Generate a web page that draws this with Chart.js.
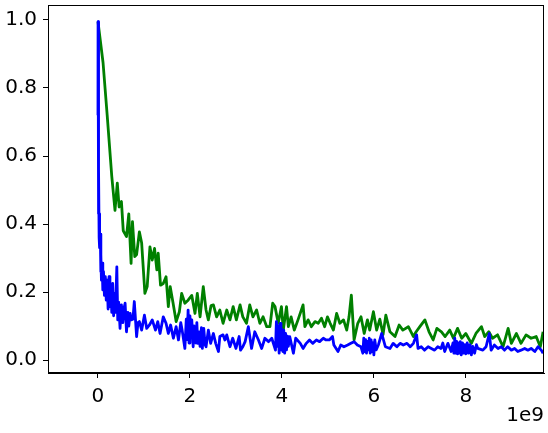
<!DOCTYPE html>
<html>
<head>
<meta charset="utf-8">
<script src="https://cdn.jsdelivr.net/npm/chart.js@4.4.1/dist/chart.umd.min.js"></script>
<style>
  html, body { margin: 0; padding: 0; background: #fff; }
  #wrap { width: 548px; height: 433px; }
</style>
</head>
<body>
<div id="wrap"><canvas id="lossChart" width="548" height="433"></canvas></div>
<script>
// x values are in units of 1e9 (shown as the axis offset label)
const greenX = [0, 0.11, 0.2, 0.3, 0.37, 0.42, 0.46, 0.51, 0.55, 0.62, 0.67, 0.72, 0.75, 0.8, 0.84, 0.9, 0.95,
  1.02, 1.07, 1.13, 1.18, 1.23, 1.28, 1.31, 1.36, 1.42, 1.48, 1.53, 1.57, 1.63, 1.7, 1.77, 1.82, 1.89, 1.96,
  2.04, 2.11, 2.16, 2.22, 2.29, 2.35, 2.4, 2.46, 2.51, 2.58, 2.65, 2.72, 2.8, 2.87, 2.94,
  3.01, 3.09, 3.15, 3.23, 3.3, 3.37, 3.45, 3.52, 3.59, 3.67, 3.74, 3.8, 3.85, 3.92, 3.99,
  4.03, 4.1, 4.14, 4.2, 4.27, 4.35, 4.46, 4.5, 4.57, 4.64, 4.72, 4.79, 4.86, 4.93, 4.99,
  5.05, 5.12, 5.19, 5.26, 5.34, 5.41, 5.46, 5.51, 5.57, 5.65, 5.72, 5.79, 5.86, 5.91, 5.99,
  6.06, 6.13, 6.2, 6.26, 6.35, 6.46, 6.55, 6.63, 6.75, 6.86, 6.92,
  7.0, 7.11, 7.2, 7.29, 7.37, 7.47, 7.55, 7.65, 7.73, 7.82, 7.91,
  8.0, 8.12, 8.22, 8.34, 8.41, 8.5, 8.58, 8.69, 8.81, 8.92, 8.99,
  9.1, 9.2, 9.31, 9.42, 9.53, 9.62, 9.68];
const greenY = [0.995, 0.875, 0.72, 0.54, 0.44, 0.52, 0.45, 0.466, 0.38, 0.363, 0.43, 0.284, 0.407, 0.304, 0.31, 0.377, 0.344,
  0.196, 0.216, 0.333, 0.294, 0.328, 0.265, 0.314, 0.22, 0.225, 0.245, 0.157, 0.216, 0.17, 0.113, 0.142, 0.196, 0.167, 0.176,
  0.19, 0.137, 0.196, 0.127, 0.216, 0.147, 0.118, 0.16, 0.162, 0.127, 0.147, 0.108, 0.147, 0.118, 0.157,
  0.118, 0.162, 0.127, 0.108, 0.162, 0.127, 0.147, 0.108, 0.127, 0.098, 0.098, 0.167, 0.157, 0.108, 0.157,
  0.088, 0.157, 0.098, 0.127, 0.088, 0.118, 0.162, 0.098, 0.118, 0.098, 0.113, 0.108, 0.123, 0.098, 0.127,
  0.108, 0.088, 0.137, 0.108, 0.118, 0.088, 0.127, 0.191, 0.059, 0.108, 0.127, 0.078, 0.118, 0.088, 0.142,
  0.088, 0.12, 0.075, 0.132, 0.083, 0.069, 0.103, 0.088, 0.098, 0.069, 0.083,
  0.098, 0.118, 0.083, 0.059, 0.093, 0.083, 0.069, 0.088, 0.064, 0.093, 0.064,
  0.078, 0.049, 0.078, 0.098, 0.069, 0.083, 0.064, 0.074, 0.039, 0.093, 0.049,
  0.078, 0.049, 0.074, 0.064, 0.069, 0.039, 0.083];

const blueX = [0, 0.002, 0.006, 0.01, 0.014, 0.02, 0.025, 0.03, 0.04, 0.05, 0.06, 0.065, 0.075, 0.09, 0.105, 0.12, 0.14,
  0.16, 0.18, 0.2, 0.22, 0.24, 0.26, 0.28, 0.3, 0.32, 0.34, 0.36, 0.38, 0.41, 0.43, 0.45, 0.48, 0.51, 0.54, 0.57,
  0.59, 0.62, 0.65, 0.67, 0.7, 0.72, 0.76, 0.79, 0.84, 0.87, 0.9, 0.95,
  1.01, 1.06, 1.12, 1.18, 1.25, 1.3, 1.35, 1.42, 1.48, 1.53, 1.58, 1.64, 1.7, 1.75, 1.8, 1.83, 1.89, 1.92, 1.94, 1.96, 1.98,
  2.0, 2.02, 2.04, 2.07, 2.09, 2.11, 2.13, 2.15, 2.17, 2.2, 2.22, 2.25, 2.27, 2.3, 2.33, 2.35, 2.4, 2.45, 2.51, 2.56,
  2.62, 2.65, 2.72, 2.76, 2.8, 2.87, 2.93,
  3.0, 3.07, 3.1, 3.15, 3.2, 3.27, 3.34, 3.41, 3.49, 3.56, 3.63, 3.71, 3.78, 3.86, 3.88, 3.9, 3.92, 3.94, 3.96, 3.98,
  4.0, 4.02, 4.04, 4.06, 4.08, 4.1, 4.12, 4.14, 4.17, 4.25, 4.3, 4.4, 4.46, 4.53, 4.6, 4.67, 4.75, 4.82, 4.9, 4.96,
  5.03, 5.1, 5.13, 5.22, 5.28, 5.35, 5.43, 5.5, 5.57, 5.64, 5.72, 5.76, 5.78, 5.8, 5.82, 5.84, 5.86, 5.88, 5.9, 5.92, 5.94, 5.96, 5.98,
  6.0, 6.02, 6.05, 6.1, 6.17, 6.25, 6.35, 6.42, 6.5, 6.57, 6.64, 6.72, 6.79, 6.86, 6.93, 6.96,
  7.03, 7.1, 7.18, 7.25, 7.32, 7.39, 7.46, 7.5, 7.54, 7.61, 7.68, 7.72, 7.74, 7.76, 7.78, 7.8, 7.82, 7.84, 7.86, 7.88, 7.9, 7.93, 7.95, 7.98,
  8.0, 8.03, 8.06, 8.09, 8.12, 8.15, 8.19, 8.23, 8.26, 8.37, 8.44, 8.51, 8.55, 8.62, 8.7, 8.77, 8.84, 8.91, 8.99,
  9.06, 9.13, 9.2, 9.28, 9.35, 9.42, 9.5, 9.57, 9.64, 9.68];
const blueY = [0.72, 0.995, 0.58, 0.70, 0.43, 0.56, 0.36, 0.43, 0.33, 0.37, 0.26, 0.31, 0.235, 0.285, 0.206, 0.26, 0.19,
  0.245, 0.176, 0.235, 0.15, 0.245, 0.157, 0.21, 0.14, 0.225, 0.13, 0.196, 0.14, 0.274, 0.118, 0.17, 0.093, 0.162, 0.11, 0.155,
  0.167, 0.083, 0.14, 0.1, 0.137, 0.118, 0.12, 0.172, 0.069, 0.11, 0.113, 0.088,
  0.132, 0.093, 0.103, 0.118, 0.088, 0.113, 0.078, 0.127, 0.108, 0.078, 0.103, 0.064, 0.098, 0.059, 0.11, 0.088, 0.034, 0.12, 0.06, 0.147, 0.05,
  0.13, 0.069, 0.118, 0.039, 0.1, 0.093, 0.05, 0.11, 0.049, 0.083, 0.04, 0.095, 0.034, 0.093, 0.045, 0.039, 0.088, 0.049, 0.078, 0.049,
  0.025, 0.069, 0.074, 0.059, 0.074, 0.039, 0.064,
  0.034, 0.069, 0.029, 0.039, 0.054, 0.098, 0.034, 0.083, 0.059, 0.034, 0.064, 0.054, 0.064, 0.029, 0.113, 0.04, 0.10, 0.02, 0.108, 0.03,
  0.09, 0.025, 0.088, 0.02, 0.078, 0.03, 0.07, 0.04, 0.069, 0.02, 0.064, 0.049, 0.034, 0.049, 0.059, 0.049, 0.059, 0.054, 0.064, 0.059,
  0.059, 0.069, 0.044, 0.025, 0.044, 0.039, 0.044, 0.049, 0.054, 0.044, 0.039, 0.02, 0.064, 0.025, 0.06, 0.02, 0.055, 0.03, 0.064, 0.02, 0.059, 0.025, 0.05,
  0.015, 0.059, 0.03, 0.045, 0.078, 0.039, 0.034, 0.049, 0.039, 0.049, 0.044, 0.049, 0.039, 0.049, 0.074, 0.034,
  0.039, 0.029, 0.039, 0.034, 0.029, 0.039, 0.034, 0.05, 0.025, 0.049, 0.025, 0.05, 0.02, 0.064, 0.02, 0.055, 0.018, 0.05, 0.02, 0.054, 0.015, 0.05, 0.02, 0.045,
  0.018, 0.05, 0.02, 0.045, 0.015, 0.04, 0.02, 0.045, 0.034, 0.029, 0.039, 0.078, 0.029, 0.044, 0.034, 0.039, 0.029, 0.039, 0.029,
  0.034, 0.025, 0.029, 0.034, 0.029, 0.034, 0.025, 0.039, 0.029, 0.02];

const xTicks = [0, 2, 4, 6, 8];
const yTicks = [0.0, 0.2, 0.4, 0.6, 0.8, 1.0];
const xOffsetLabel = '1e9';

function toPoints(xs, ys) {
  return xs.map((x, i) => ({ x: x, y: ys[i] }));
}

// matplotlib-like box around the plot area
const frameBox = {
  id: 'frameBox',
  afterDatasetsDraw(chart) {
    const a = chart.chartArea;
    const ctx = chart.ctx;
    ctx.save();
    ctx.strokeStyle = '#000';
    ctx.lineWidth = 1;
    ctx.strokeRect(Math.round(a.left) + 0.5, Math.round(a.top) + 0.5,
      Math.round(a.right - a.left) - 1, Math.round(a.bottom - a.top) - 1);
    ctx.restore();
  }
};

const tickFont = { family: 'DejaVu Sans', size: 20 };

new Chart(document.getElementById('lossChart'), {
  type: 'line',
  data: {
    datasets: [
      {
        data: toPoints(blueX, blueY),
        borderColor: '#0000ff',
        borderWidth: 2.8,
        borderJoinStyle: 'round',
        pointRadius: 0,
        tension: 0,
        fill: false
      },
      {
        data: toPoints(greenX, greenY),
        borderColor: '#008000',
        borderWidth: 2.8,
        borderJoinStyle: 'round',
        pointRadius: 0,
        tension: 0,
        fill: false
      }
    ]
  },
  options: {
    responsive: false,
    animation: false,
    events: [],
    layout: { padding: { top: 5, right: 4, left: 0, bottom: 0 } },
    plugins: { legend: { display: false }, tooltip: { enabled: false } },
    scales: {
      x: {
        type: 'linear',
        min: -1.087,
        max: 9.7,
        afterFit(s) { s.height = 60; s.paddingLeft = 0; s.paddingRight = 0; },
        afterBuildTicks(s) { s.ticks = xTicks.map(v => ({ value: v })); },
        grid: { display: true, drawOnChartArea: false, drawTicks: true, tickLength: 5, color: '#000', lineWidth: 1 },
        border: { display: true, color: '#000', width: 1 },
        ticks: { color: '#000', font: tickFont, padding: 7, maxRotation: 0, callback: v => String(v) },
        title: { display: true, text: xOffsetLabel, align: 'end', color: '#000', font: tickFont, padding: { top: 0, bottom: 5 } }
      },
      y: {
        type: 'linear',
        min: -0.0382,
        max: 1.0441,
        afterFit(s) { s.width = 48; s.paddingTop = 0; s.paddingBottom = 0; },
        afterBuildTicks(s) { s.ticks = yTicks.map(v => ({ value: v })); },
        grid: { display: true, drawOnChartArea: false, drawTicks: true, tickLength: 5, color: '#000', lineWidth: 1 },
        border: { display: true, color: '#000', width: 1 },
        ticks: { color: '#000', font: tickFont, padding: 6, callback: v => Number(v).toFixed(1) }
      }
    }
  },
  plugins: [frameBox]
});
</script>
</body>
</html>
